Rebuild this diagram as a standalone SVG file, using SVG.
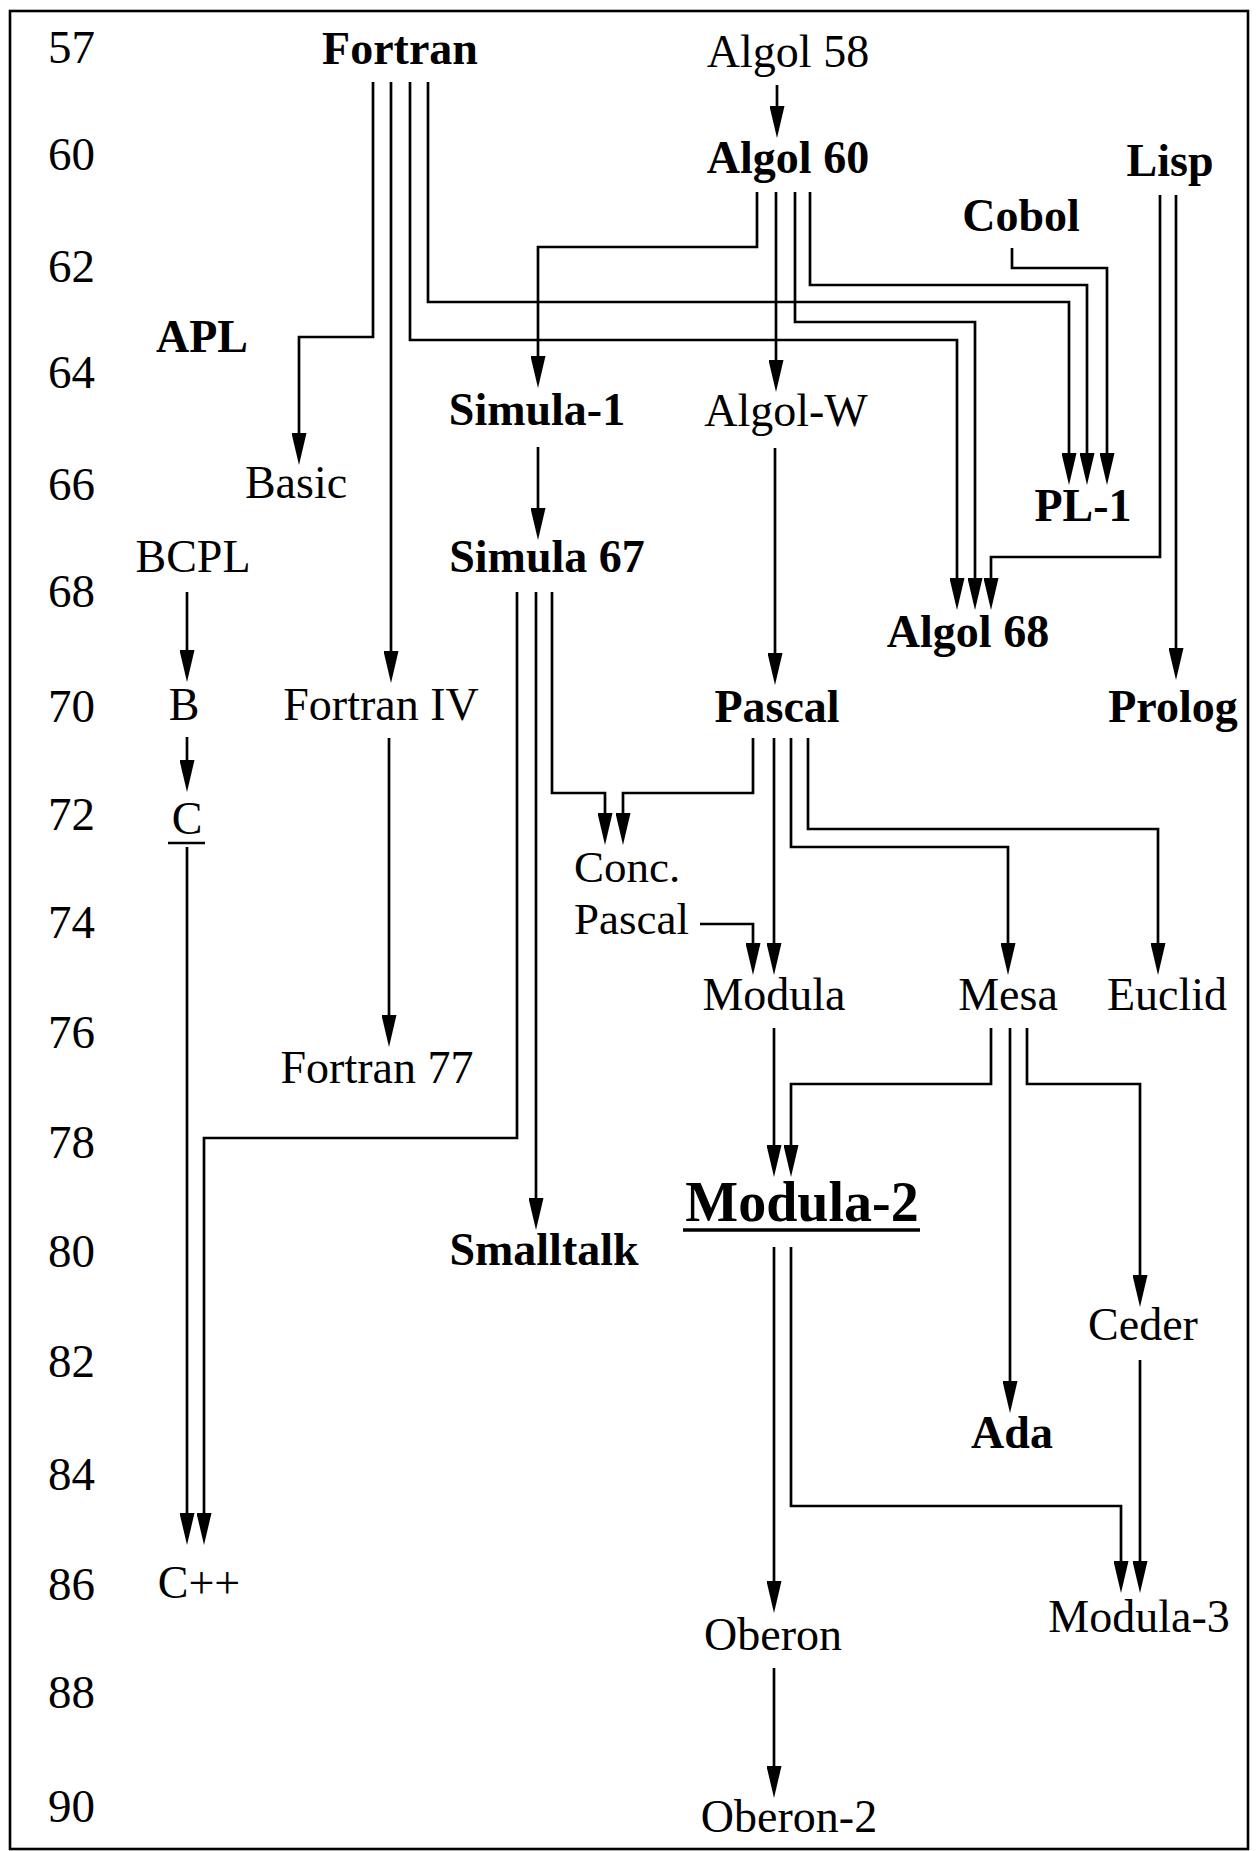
<svg xmlns="http://www.w3.org/2000/svg" width="1258" height="1851" viewBox="0 0 1258 1851">
<style>
text{font-family:"Liberation Serif","Times New Roman",serif;font-size:46px;fill:#000}
.b{font-weight:bold}
.m{text-anchor:middle}
.yr{font-size:47px}
.ln{fill:none;stroke:#000;stroke-width:2.7}
.ar{marker-end:url(#ah)}
</style>
<defs>
<marker id="ah" viewBox="0 0 32 15" markerWidth="32" markerHeight="15" refX="24" refY="7.5" orient="auto" markerUnits="userSpaceOnUse">
<path d="M0,0 L32,7.5 L0,15 z" fill="#000"/>
</marker>
</defs>
<rect width="1258" height="1851" fill="#fff"/>
<rect x="10" y="11" width="1238" height="1838" fill="none" stroke="#000" stroke-width="2.6"/>
<g id="years">
<text class="yr" x="48" y="63">57</text>
<text class="yr" x="48" y="170">60</text>
<text class="yr" x="48" y="282">62</text>
<text class="yr" x="48" y="388">64</text>
<text class="yr" x="48" y="500">66</text>
<text class="yr" x="48" y="607">68</text>
<text class="yr" x="48" y="722">70</text>
<text class="yr" x="48" y="830">72</text>
<text class="yr" x="48" y="938">74</text>
<text class="yr" x="48" y="1048">76</text>
<text class="yr" x="48" y="1158">78</text>
<text class="yr" x="48" y="1267">80</text>
<text class="yr" x="48" y="1377">82</text>
<text class="yr" x="48" y="1490">84</text>
<text class="yr" x="48" y="1600">86</text>
<text class="yr" x="48" y="1708">88</text>
<text class="yr" x="48" y="1822">90</text>
</g>
<g id="connectors">
<path class="ln ar" d="M373,82 V337 H299 V457"/>
<path class="ln ar" d="M391,82 V675"/>
<path class="ln ar" d="M410,82 V340 H957 V602"/>
<path class="ln ar" d="M428,82 V302 H1069 V477"/>
<path class="ln ar" d="M777,85 V130"/>
<path class="ln ar" d="M757,192 V247 H538 V380"/>
<path class="ln ar" d="M776,192 V384"/>
<path class="ln ar" d="M795,192 V322 H975 V602"/>
<path class="ln ar" d="M810,192 V285 H1087 V477"/>
<path class="ln ar" d="M1012,248 V268 H1107 V477"/>
<path class="ln ar" d="M1160,195 V557 H991 V602"/>
<path class="ln ar" d="M1176,195 V672"/>
<path class="ln ar" d="M538,447 V532"/>
<path class="ln ar" d="M775,448 V677"/>
<path class="ln ar" d="M187,592 V674"/>
<path class="ln ar" d="M187,737 V784"/>
<path class="ln ar" d="M187,847 V1537"/>
<path class="ln ar" d="M517,592 V1138 H204 V1537"/>
<path class="ln ar" d="M536,592 V1222"/>
<path class="ln ar" d="M552,592 V793 H605 V837"/>
<path class="ln ar" d="M389,738 V1039"/>
<path class="ln ar" d="M753,738 V793 H623 V837"/>
<path class="ln ar" d="M774,738 V967"/>
<path class="ln ar" d="M791,738 V847 H1008 V967"/>
<path class="ln ar" d="M808,738 V829 H1158 V967"/>
<path class="ln ar" d="M700,924 H753 V967"/>
<path class="ln ar" d="M774,1028 V1169"/>
<path class="ln ar" d="M991,1028 V1084 H791 V1169"/>
<path class="ln ar" d="M1010,1028 V1405"/>
<path class="ln ar" d="M1027,1028 V1084 H1140 V1299"/>
<path class="ln ar" d="M1140,1360 V1585"/>
<path class="ln ar" d="M774,1247 V1605"/>
<path class="ln ar" d="M791,1247 V1506 H1121 V1585"/>
<path class="ln ar" d="M774,1668 V1790"/>
</g>
<g id="fortran"><text class="b m" x="400" y="64">Fortran</text></g>
<g id="algol58"><text class="m" x="788" y="67">Algol 58</text></g>
<g id="algol60"><text class="b m" x="788" y="173">Algol 60</text></g>
<g id="lisp"><text class="b m" x="1170" y="176">Lisp</text></g>
<g id="cobol"><text class="b m" x="1021" y="231">Cobol</text></g>
<g id="apl"><text class="b m" x="202" y="352">APL</text></g>
<g id="simula1"><text class="b m" x="537" y="425">Simula-1</text></g>
<g id="algolw"><text class="m" x="786" y="426">Algol-W</text></g>
<g id="pl1"><text class="b m" x="1083" y="521">PL-1</text></g>
<g id="basic"><text class="m" x="296" y="498">Basic</text></g>
<g id="bcpl"><text class="m" x="193" y="572">BCPL</text></g>
<g id="simula67"><text class="b m" x="547" y="572">Simula 67</text></g>
<g id="algol68"><text class="b m" x="968" y="647">Algol 68</text></g>
<g id="b"><text class="m" x="184" y="720">B</text></g>
<g id="fortran4"><text class="m" x="381" y="720">Fortran IV</text></g>
<g id="pascal"><text class="b m" x="777" y="722">Pascal</text></g>
<g id="prolog"><text class="b m" x="1173" y="722">Prolog</text></g>
<g id="c"><text class="m" x="187" y="834">C</text><line class="ln" x1="168" y1="843" x2="205" y2="843"/></g>
<g id="concpascal"><text x="574" y="882" style="font-size:45px">Conc.</text><text x="574" y="934" style="font-size:45px">Pascal</text></g>
<g id="modula"><text class="m" x="774" y="1010">Modula</text></g>
<g id="mesa"><text class="m" x="1008" y="1010">Mesa</text></g>
<g id="euclid"><text class="m" x="1167" y="1010">Euclid</text></g>
<g id="fortran77"><text class="m" x="377" y="1083">Fortran 77</text></g>
<g id="modula2"><text class="b m" x="802" y="1221" style="font-size:56px">Modula-2</text><line class="ln" x1="683" y1="1230" x2="920" y2="1230" style="stroke-width:3.5"/></g>
<g id="smalltalk"><text class="b m" x="544" y="1265">Smalltalk</text></g>
<g id="ceder"><text class="m" x="1143" y="1340">Ceder</text></g>
<g id="ada"><text class="b m" x="1012" y="1448">Ada</text></g>
<g id="cpp"><text class="m" x="199" y="1598">C++</text></g>
<g id="modula3"><text class="m" x="1139" y="1632">Modula-3</text></g>
<g id="oberon"><text class="m" x="773" y="1650">Oberon</text></g>
<g id="oberon2"><text class="m" x="789" y="1832">Oberon-2</text></g>
</svg>
